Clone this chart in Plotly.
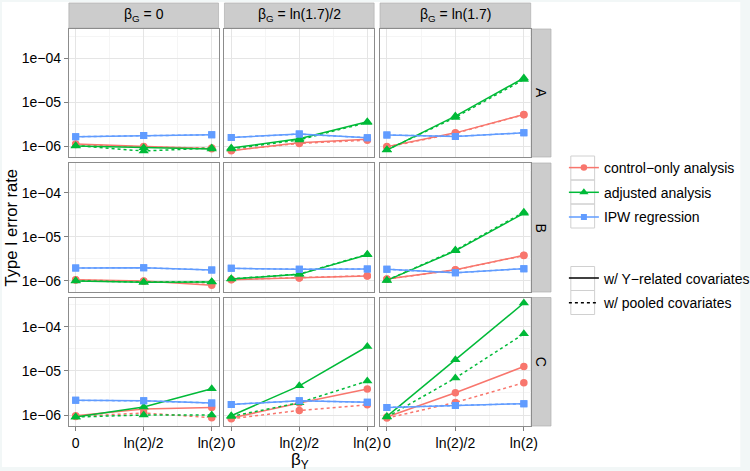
import math
import plotly.graph_objects as go

# ---------------- data ----------------
beta_Y = [0.0, math.log(2) / 2, math.log(2)]
x_ticktext = ["0", "ln(2)/2", "ln(2)"]
col_labels = ["β<sub>G</sub> = 0", "β<sub>G</sub> = ln(1.7)/2", "β<sub>G</sub> = ln(1.7)"]
row_labels = ["A", "B", "C"]
y_tickvals = [1e-6, 1e-5, 1e-4]
y_ticktext = ["1e\u221206", "1e\u221205", "1e\u221204"]
y_minor = [10 ** -6.5, 10 ** -5.5, 10 ** -4.5, 10 ** -3.5]

methods = ["control\u2212only analysis", "adjusted analysis", "IPW regression"]
covsets = ["w/ Y\u2212related covariates", "w/ pooled covariates"]

# values[row][col] -> 3 points along beta_Y
control_Y = [
    [[1.11e-6, 0.97e-6, 0.87e-6], [0.78e-6, 1.19e-6, 1.42e-6], [0.97e-6, 2.0e-6, 5.25e-6]],
    [[1.07e-6, 1.0e-6, 0.80e-6], [1.07e-6, 1.17e-6, 1.29e-6], [1.11e-6, 1.8e-6, 3.8e-6]],
    [[0.96e-6, 1.37e-6, 1.49e-6], [0.85e-6, 1.87e-6, 3.9e-6], [0.90e-6, 3.2e-6, 1.26e-5]],
]
control_pooled = [
    [[1.08e-6, 0.95e-6, 0.90e-6], [0.80e-6, 1.15e-6, 1.36e-6], [0.95e-6, 1.95e-6, 5.2e-6]],
    [[1.05e-6, 0.98e-6, 0.90e-6], [1.08e-6, 1.18e-6, 1.31e-6], [1.10e-6, 1.78e-6, 3.75e-6]],
    [[0.93e-6, 1.11e-6, 0.87e-6], [0.82e-6, 1.27e-6, 1.71e-6], [0.85e-6, 1.93e-6, 5.4e-6]],
]
adjusted_Y = [
    [[1.0e-6, 0.92e-6, 0.86e-6], [0.90e-6, 1.47e-6, 3.57e-6], [0.81e-6, 4.83e-6, 3.56e-5]],
    [[1.0e-6, 0.93e-6, 0.95e-6], [1.11e-6, 1.41e-6, 3.9e-6], [1.03e-6, 4.8e-6, 3.4e-5]],
    [[0.90e-6, 1.52e-6, 3.96e-6], [0.96e-6, 4.6e-6, 3.6e-5], [0.93e-6, 1.8e-5, 3.5e-4]],
]
adjusted_pooled = [
    [[1.02e-6, 0.77e-6, 0.90e-6], [0.86e-6, 1.38e-6, 3.45e-6], [0.82e-6, 4.5e-6, 3.3e-5]],
    [[1.01e-6, 0.94e-6, 0.96e-6], [1.12e-6, 1.43e-6, 4.0e-6], [1.04e-6, 5.0e-6, 3.6e-5]],
    [[0.90e-6, 1.0e-6, 1.0e-6], [0.93e-6, 1.9e-6, 5.9e-6], [0.90e-6, 6.9e-6, 7.0e-5]],
]
ipw_Y = [
    [[1.63e-6, 1.75e-6, 1.81e-6], [1.57e-6, 1.87e-6, 1.55e-6], [1.78e-6, 1.66e-6, 2.0e-6]],
    [[1.97e-6, 1.99e-6, 1.77e-6], [1.93e-6, 1.84e-6, 1.87e-6], [1.84e-6, 1.53e-6, 1.9e-6]],
    [[2.15e-6, 2.10e-6, 1.87e-6], [1.74e-6, 2.10e-6, 1.95e-6], [1.49e-6, 1.65e-6, 1.81e-6]],
]
ipw_pooled = [
    [[1.63e-6, 1.75e-6, 1.81e-6], [1.57e-6, 1.87e-6, 1.55e-6], [1.78e-6, 1.66e-6, 2.0e-6]],
    [[1.97e-6, 1.99e-6, 1.77e-6], [1.93e-6, 1.84e-6, 1.87e-6], [1.84e-6, 1.53e-6, 1.9e-6]],
    [[2.15e-6, 2.10e-6, 1.87e-6], [1.74e-6, 2.10e-6, 1.95e-6], [1.49e-6, 1.65e-6, 1.81e-6]],
]

# ---------------- style ----------------
W, H = 780, 471          # paper a bit wider than the 750 px window so the legend is never clamped
FONT = "Liberation Sans, Arial, sans-serif"
colors = {methods[0]: "#F8766D", methods[1]: "#00BA38", methods[2]: "#619CFF"}
symbols = {methods[0]: "circle", methods[1]: "triangle-up", methods[2]: "square"}
msizes = {methods[0]: 7.5, methods[1]: 9, methods[2]: 7}
dashes = {covsets[0]: "solid", covsets[1]: "3px,3px"}
series = [
    (methods[0], covsets[0], control_Y),
    (methods[0], covsets[1], control_pooled),
    (methods[1], covsets[0], adjusted_Y),
    (methods[1], covsets[1], adjusted_pooled),
    (methods[2], covsets[0], ipw_Y),
    (methods[2], covsets[1], ipw_pooled),
]

cols_px = [(69.5, 220.5), (226.5, 377.5), (383.5, 535.5)]
rows_px = [(29, 157), (163, 292), (297.5, 426)]
strip_top = (3, 28)
strip_right = (536, 556)


def fx(px):
    return px / W


def fy(py):
    return 1 - py / H


fig = go.Figure()
layout = {}
xr = [beta_Y[0] - 0.05 * (beta_Y[2] - beta_Y[0]), beta_Y[2] + 0.05 * (beta_Y[2] - beta_Y[0])]

for r in range(3):
    for c in range(3):
        idx = r * 3 + c + 1
        xa = "x" if idx == 1 else f"x{idx}"
        ya = "y" if idx == 1 else f"y{idx}"
        xkey = "xaxis" if idx == 1 else f"xaxis{idx}"
        ykey = "yaxis" if idx == 1 else f"yaxis{idx}"
        layout[xkey] = dict(
            domain=[fx(cols_px[c][0]), fx(cols_px[c][1])], anchor=ya, range=xr,
            tickmode="array", tickvals=beta_Y, ticktext=x_ticktext,
            showticklabels=(r == 2), ticks="outside" if r == 2 else "", ticklen=4,
            tickcolor="#7F7F7F", showgrid=True, gridcolor="#E5E5E5", gridwidth=1,
            minor=dict(tickvals=[(beta_Y[0] + beta_Y[1]) / 2, (beta_Y[1] + beta_Y[2]) / 2],
                       showgrid=True, gridcolor="#F5F5F5", ticks=""),
            showline=True, mirror=True, linecolor="#8C8C8C", linewidth=1, zeroline=False,
            tickfont=dict(size=14, color="#000000", family=FONT),
        )
        layout[ykey] = dict(
            domain=[fy(rows_px[r][1]), fy(rows_px[r][0])], anchor=xa, type="log",
            range=[-6.25, -3.33], tickmode="array", tickvals=y_tickvals, ticktext=y_ticktext,
            showticklabels=(c == 0), ticks="outside" if c == 0 else "", ticklen=4,
            tickcolor="#7F7F7F", showgrid=True, gridcolor="#E5E5E5", gridwidth=1,
            minor=dict(tickvals=y_minor, showgrid=True, gridcolor="#F5F5F5", ticks=""),
            showline=True, mirror=True, linecolor="#8C8C8C", linewidth=1, zeroline=False,
            tickfont=dict(size=14, color="#000000", family=FONT),
        )
        for method, cov, data in series:
            fig.add_trace(go.Scatter(
                x=beta_Y, y=data[r][c], xaxis=xa, yaxis=ya, mode="lines+markers",
                line=dict(color=colors[method], width=1.5, dash=dashes[cov]),
                marker=dict(color=colors[method], symbol=symbols[method], size=msizes[method], line=dict(width=0)),
                showlegend=False, hoverinfo="skip",
            ))

# legend dummy traces
for i, m in enumerate(methods):
    fig.add_trace(go.Scatter(
        x=[None], y=[None], mode="lines+markers", name=m, legend="legend", legendgroup=f"m{i}",
        line=dict(color=colors[m], width=1.5),
        marker=dict(color=colors[m], symbol=symbols[m], size=msizes[m] - 1),
    ))
for i, cv in enumerate(covsets):
    fig.add_trace(go.Scatter(
        x=[None], y=[None], mode="lines", name=cv, legend="legend2", legendgroup=f"c{i}",
        line=dict(color="#000000", width=1.5, dash=dashes[cv]),
    ))

shapes = []
shapes.append(dict(type="rect", xref="paper", yref="paper", x0=fx(2), x1=fx(747), y0=fy(467), y1=fy(2),
                   fillcolor="#FFFFFF", line=dict(width=0), layer="below"))
annotations = []
for c in range(3):
    shapes.append(dict(type="rect", xref="paper", yref="paper",
                       x0=fx(cols_px[c][0]), x1=fx(cols_px[c][1]),
                       y0=fy(strip_top[1]), y1=fy(strip_top[0]),
                       fillcolor="#CCCCCC", line=dict(color="#B0B0B0", width=0.7), layer="below"))
    annotations.append(dict(text=col_labels[c], xref="paper", yref="paper",
                            x=fx((cols_px[c][0] + cols_px[c][1]) / 2), y=fy((strip_top[0] + strip_top[1]) / 2),
                            showarrow=False, xanchor="center", yanchor="middle",
                            font=dict(size=14, color="#000000", family=FONT)))
for r in range(3):
    shapes.append(dict(type="rect", xref="paper", yref="paper",
                       x0=fx(strip_right[0]), x1=fx(strip_right[1]),
                       y0=fy(rows_px[r][1]), y1=fy(rows_px[r][0]),
                       fillcolor="#CCCCCC", line=dict(color="#B0B0B0", width=0.7), layer="below"))
    annotations.append(dict(text=row_labels[r], xref="paper", yref="paper",
                            x=fx((strip_right[0] + strip_right[1]) / 2), y=fy((rows_px[r][0] + rows_px[r][1]) / 2),
                            showarrow=False, xanchor="center", yanchor="middle", textangle=90,
                            font=dict(size=14, color="#000000", family=FONT)))
# legend key boxes
for top in [156, 180, 204]:
    shapes.append(dict(type="rect", xref="paper", yref="paper", x0=fx(576), x1=fx(600),
                       y0=fy(top + 24), y1=fy(top), line=dict(color="#D0D0D0", width=1), layer="below"))
for top in [266.5, 290.5]:
    shapes.append(dict(type="rect", xref="paper", yref="paper", x0=fx(576), x1=fx(600),
                       y0=fy(top + 24), y1=fy(top), line=dict(color="#D0D0D0", width=1), layer="below"))

annotations.append(dict(text="Type I error rate", xref="paper", yref="paper", x=fx(11), y=fy(227.5),
                        showarrow=False, textangle=-90, xanchor="center", yanchor="middle",
                        font=dict(size=16.5, color="#000000", family=FONT)))
annotations.append(dict(text="β<sub>Y</sub>", xref="paper", yref="paper", x=fx(302.5), y=fy(461),
                        showarrow=False, xanchor="center", yanchor="middle",
                        font=dict(size=17, color="#000000", family=FONT)))

fig.update_layout(
    width=W, height=H, margin=dict(l=0, r=0, t=0, b=0),
    paper_bgcolor="#F2F7F7", plot_bgcolor="#FFFFFF",
    font=dict(family=FONT, size=14, color="#000000"),
    shapes=shapes, annotations=annotations,
    legend=dict(x=fx(569), y=fy(152), xanchor="left", yanchor="top", bgcolor="rgba(0,0,0,0)",
                font=dict(size=14, family=FONT, color="#000000"), itemwidth=30,
                tracegroupgap=3.5, traceorder="grouped"),
    legend2=dict(x=fx(569), y=fy(262.5), xanchor="left", yanchor="top", bgcolor="rgba(0,0,0,0)",
                 font=dict(size=14, family=FONT, color="#000000"), itemwidth=30,
                 tracegroupgap=3.5, traceorder="grouped"),
    **layout,
)

fig.write_html(
    "out.html",
    post_script=("document.body.style.margin='0px';"
                 "document.body.style.overflow='hidden';"
                 "document.documentElement.style.overflow='hidden';"),
    config={"displayModeBar": False},
)
